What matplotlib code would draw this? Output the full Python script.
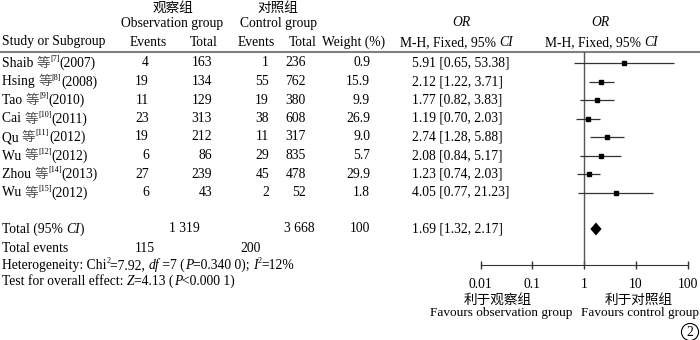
import matplotlib
matplotlib.use("Agg")
import matplotlib.pyplot as plt
import numpy as np

plt.rcParams['font.family'] = ['Liberation Serif', 'Noto Sans CJK SC']

# data
studies = ["Shaib", "Hsing", "Tao", "Cai", "Qu", "Wu", "Zhou", "Wu"]
refs = ["[7]", "[8]", "[9]", "[10]", "[11]", "[12]", "[14]", "[15]"]
years = ["2007", "2008", "2010", "2011", "2012", "2012", "2013", "2012"]
obs_events = [4, 19, 11, 23, 19, 6, 27, 6]
obs_total = [163, 134, 129, 313, 212, 86, 239, 43]
ctl_events = [1, 55, 19, 38, 11, 29, 45, 2]
ctl_total = [236, 762, 380, 608, 317, 835, 478, 52]
weights = [0.9, 15.9, 9.9, 26.9, 9.0, 5.7, 29.9, 1.8]
or_val = [5.91, 2.12, 1.77, 1.19, 2.74, 2.08, 1.23, 4.05]
or_lo = [0.65, 1.22, 0.82, 0.70, 1.28, 0.84, 0.74, 0.77]
or_hi = [53.38, 3.71, 3.83, 2.03, 5.88, 5.17, 2.03, 21.23]
tot_or, tot_lo, tot_hi = 1.69, 1.32, 2.17
tot_obs, tot_ctl = "1 319", "3 668"
tot_events_obs, tot_events_ctl = 115, 200
ticks = [0.01, 0.1, 1, 10, 100]
tick_labels = ["0.01", "0.1", "1", "10", "100"]

FS = 9.8
row_y = 63 + 18.5 * np.arange(len(studies))
y_total = 229
BL = 4  # baseline offset below the row centre

fig = plt.figure(figsize=(7, 3.4), dpi=100)
ax = fig.add_axes([0, 0, 1, 1])
ax.set_xlim(0, 700)
ax.set_ylim(340, 0)
ax.axis("off")


def rich(x, y, parts, size=FS):
    # chain text pieces left to right on one baseline
    prev = None
    for txt, kind in parts:
        kw = dict(fontsize=size, va="baseline", ha="left")
        dy = 0
        if kind == "i":
            kw["style"] = "italic"
        elif kind == "sup":
            kw["fontsize"] = size * 0.6
            dy = 4
        elif kind == "cjk":
            kw["color"] = "#555555"
        if prev is None:
            t = ax.annotate(txt, xy=(x, y + BL), xycoords="data",
                            xytext=(0, dy), textcoords="offset points", **kw)
        else:
            t = ax.annotate(txt, xy=(1, y + BL), xycoords=(prev, ax.transData),
                            xytext=(0, dy), textcoords="offset points", **kw)
        prev = t
    return prev


# headers
ax.text(173, 8, "观察组", ha="center", va="center", fontsize=FS)
ax.text(278, 8, "对照组", ha="center", va="center", fontsize=FS)
ax.text(172, 23, "Observation group", ha="center", va="center", fontsize=FS)
ax.text(278, 23, "Control group", ha="center", va="center", fontsize=FS)
ax.text(461, 23, "OR", ha="center", va="center", fontsize=FS, style="italic")
ax.text(600, 23, "OR", ha="center", va="center", fontsize=FS, style="italic")
ax.text(2, 42, "Study or Subgroup", ha="left", va="center", fontsize=FS)
ax.text(167, 42, "Events", ha="right", va="center", fontsize=FS)
ax.text(218, 42, "Total", ha="right", va="center", fontsize=FS)
ax.text(275, 42, "Events", ha="right", va="center", fontsize=FS)
ax.text(317, 42, "Total", ha="right", va="center", fontsize=FS)
ax.text(322, 42, "Weight (%)", ha="left", va="center", fontsize=FS)
rich(400, 42, [("M-H, Fixed, 95% ", ""), ("CI", "i")])
rich(545, 42, [("M-H, Fixed, 95% ", ""), ("CI", "i")])
ax.axhline(52, color="#808080", lw=1.5)

# study rows
for i, y in enumerate(row_y):
    rich(2, y, [(studies[i] + " ", ""), ("等", "cjk"), (refs[i], "sup"),
                ("(" + years[i] + ")", "")])
    ax.text(149, y, str(obs_events[i]), ha="right", va="center", fontsize=FS)
    ax.text(212, y, str(obs_total[i]), ha="right", va="center", fontsize=FS)
    ax.text(269, y, str(ctl_events[i]), ha="right", va="center", fontsize=FS)
    ax.text(306, y, str(ctl_total[i]), ha="right", va="center", fontsize=FS)
    ax.text(370, y, f"{weights[i]:.1f}", ha="right", va="center", fontsize=FS)
    ax.text(412, y, f"{or_val[i]:.2f} [{or_lo[i]:.2f}, {or_hi[i]:.2f}]",
            ha="left", va="center", fontsize=FS)

# totals
rich(2, y_total, [("Total (95% ", ""), ("CI", "i"), (")", "")])
ax.text(200, y_total, tot_obs, ha="right", va="center", fontsize=FS)
ax.text(315, y_total, tot_ctl, ha="right", va="center", fontsize=FS)
ax.text(370, y_total, "100", ha="right", va="center", fontsize=FS)
ax.text(412, y_total, f"{tot_or:.2f} [{tot_lo:.2f}, {tot_hi:.2f}]",
        ha="left", va="center", fontsize=FS)
ax.text(2, 248, "Total events", ha="left", va="center", fontsize=FS)
ax.text(145, 248, str(tot_events_obs), ha="center", va="center", fontsize=FS)
ax.text(251, 248, str(tot_events_ctl), ha="center", va="center", fontsize=FS)
rich(2, 265, [("Heterogeneity: Chi", ""), ("2", "sup"), ("=7.92, ", ""), ("df", "i"),
              (" =7 (", ""), ("P", "i"), ("=0.340 0); ", ""), ("I", "i"),
              ("2", "sup"), ("=12%", "")])
rich(2, 281, [("Test for overall effect: ", ""), ("Z", "i"), ("=4.13 (", ""),
              ("P", "i"), ("<0.000 1)", "")])

# forest panel
x0, x1 = 480.6, 687.7
yt, yb = 52, 265
fx = fig.add_axes([x0 / 700, (340 - yb) / 340, (x1 - x0) / 700, (yb - yt) / 340])
fx.set_xscale("log")
fx.set_xlim(0.01, 100)
fx.set_ylim(yb, yt)
fx.patch.set_alpha(0)
for s in ["top", "left", "right"]:
    fx.spines[s].set_visible(False)
fx.spines["bottom"].set_color("#333333")
fx.set_yticks([])
fx.set_xticks(ticks)
fx.set_xticklabels(tick_labels)
fx.minorticks_off()
fx.tick_params(axis="x", direction="inout", length=6, width=1, color="#333333",
               labelsize=FS, pad=6)
fx.axvline(1, color="#555555", lw=1)

fx.hlines(row_y, or_lo, or_hi, color="#333333", lw=0.9, clip_on=False)
fx.plot(or_val, row_y, "s", color="black", ms=3.4, clip_on=False)
dh = 6.5
fx.fill([tot_lo, tot_or, tot_hi, tot_or], [y_total, y_total - dh, y_total, y_total + dh],
        color="black", lw=0)

ax.text(498, 300, "利于观察组", ha="center", va="center", fontsize=FS)
ax.text(501, 313, "Favours observation group", ha="center", va="center", fontsize=9.5)
ax.text(639, 300, "利于对照组", ha="center", va="center", fontsize=FS)
ax.text(640, 313, "Favours control group", ha="center", va="center", fontsize=9.5)
ax.text(690, 332, "2", ha="center", va="center", fontsize=FS,
        bbox=dict(boxstyle="circle,pad=0.15", fc="white", ec="black", lw=0.8))

fig.savefig("out.png", dpi=100)
